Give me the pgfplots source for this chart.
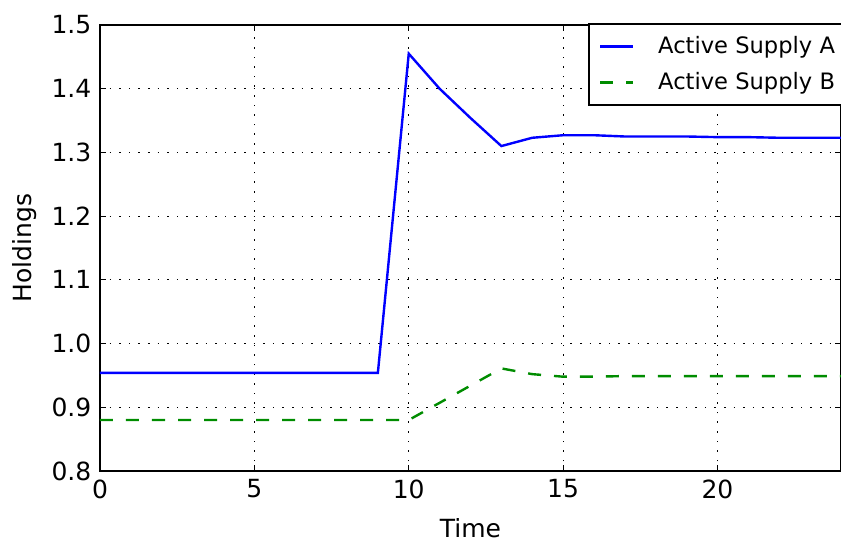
\documentclass[border=0pt]{standalone}
\usepackage{fontspec}
\setmainfont{DejaVu Sans}
\usepackage{pgfplots}
\pgfplotsset{compat=1.18}
\begin{document}
\fontsize{12.5}{15}\selectfont
\begin{tikzpicture}
\begin{axis}[
  scale only axis,
  width=370.5pt, height=223pt,
  xmin=0, xmax=24, ymin=0.8, ymax=1.5,
  xtick={0,5,10,15,20},
  ytick={0.8,0.9,1.0,1.1,1.2,1.3,1.4,1.5},
  yticklabel style={/pgf/number format/.cd, fixed, fixed zerofill, precision=1},
  /pgf/number format/assume math mode=true,
  tick align=inside, tick pos=both,
  major tick length=3pt,
  tick style={black, line width=0.5pt},
  axis line style={line width=1pt},
  grid=major,
  major grid style={black, line width=0.6pt, dash pattern=on 0.8pt off 4pt},
  xlabel={Time}, ylabel={Holdings},
  xlabel style={yshift=-1.5pt},
  ylabel style={yshift=-1pt},
  legend style={at={(1,1)}, anchor=north east, xshift=4.5pt, yshift=1pt,
    draw=black, line width=1pt,
    font=\fontsize{11.3}{13.5}\selectfont, row sep=3.5pt, inner xsep=5pt, inner ysep=4pt,
    /tikz/every odd column/.append style={column sep=10pt}},
  legend cell align=left,
  legend image code/.code={\draw[#1] (0pt,0pt) -- (16.5pt,0pt);},
]
\addplot[blue, line width=1.2pt] coordinates {
 (0,0.954) (1,0.954) (2,0.954) (3,0.954) (4,0.954) (5,0.954) (6,0.954) (7,0.954) (8,0.954) (9,0.954)
 (10,1.455) (11,1.400) (12,1.354) (13,1.310) (14,1.323) (15,1.327) (16,1.327) (17,1.325)
 (18,1.325) (19,1.325) (20,1.324) (21,1.324) (22,1.323) (23,1.323) (24,1.323)
};
\addlegendentry{Active Supply A}
\addplot[black!45!green, line width=1.2pt, dash pattern=on 6.5pt off 6.5pt] coordinates {
 (0,0.880) (1,0.880) (2,0.880) (3,0.880) (4,0.880) (5,0.880) (6,0.880) (7,0.880) (8,0.880) (9,0.880)
 (10,0.880) (11,0.907) (12,0.934) (13,0.961) (14,0.952) (15,0.948) (16,0.948) (17,0.949)
 (18,0.949) (19,0.949) (20,0.949) (21,0.949) (22,0.949) (23,0.949) (24,0.949)
};
\addlegendentry{Active Supply B}
\end{axis}
\pgfresetboundingbox
\path ([xshift=-50pt,yshift=-36pt]current axis.south west) rectangle ([yshift=12.5pt]current axis.north east);
\end{tikzpicture}
\end{document}
